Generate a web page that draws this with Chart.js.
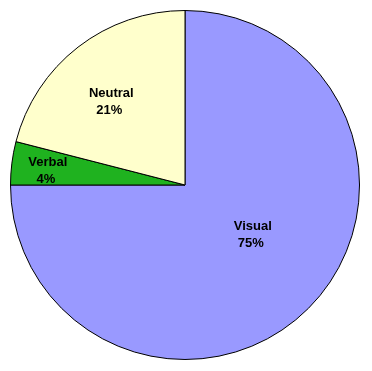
<!DOCTYPE html>
<html>
<head>
<meta charset="utf-8">
<script src="https://cdn.jsdelivr.net/npm/chart.js@4"></script>
<style>
  html, body { margin: 0; padding: 0; background: #fff; }
  #wrap { width: 372px; height: 371px; }
</style>
</head>
<body>
<div id="wrap"><canvas id="pie"></canvas></div>
<script>
// slices, clockwise from 12 o'clock
const categories = ['Visual', 'Verbal', 'Neutral'];
const shares = [75, 4, 21];
const sliceColors = ['#9999ff', '#1fb21f', '#ffffcc'];

// where each label sits: fraction of radius, angle shift from slice middle (deg)
const labelSpots = [
  { r: 0.48, shift: -9 },
  { r: 0.79, shift: -1.3 },
  { r: 0.64, shift: -3.5 }
];

const sliceLabels = {
  id: 'sliceLabels',
  afterDatasetsDraw(chart) {
    const ctx = chart.ctx;
    const arcs = chart.getDatasetMeta(0).data;
    ctx.save();
    ctx.font = 'bold 13px "Liberation Sans", Arial, sans-serif';
    ctx.fillStyle = '#000';
    ctx.textAlign = 'center';
    ctx.textBaseline = 'middle';
    arcs.forEach((arc, i) => {
      const p = arc.getProps(['x', 'y', 'startAngle', 'endAngle', 'outerRadius'], true);
      const a = (p.startAngle + p.endAngle) / 2 + labelSpots[i].shift * Math.PI / 180;
      const d = p.outerRadius * labelSpots[i].r;
      const cx = p.x + Math.cos(a) * d;
      const cy = p.y + Math.sin(a) * d;
      ctx.fillText(categories[i], cx, cy - 8);
      ctx.fillText(shares[i] + '%', cx - 2, cy + 9);
    });
    ctx.restore();
  }
};

new Chart(document.getElementById('pie'), {
  type: 'pie',
  data: {
    labels: categories,
    datasets: [{
      data: shares,
      backgroundColor: sliceColors,
      borderColor: '#000',
      borderWidth: 1
    }]
  },
  options: {
    responsive: true,
    maintainAspectRatio: false,
    animation: false,
    layout: { padding: { left: 10, right: 12, top: 10, bottom: 11 } },
    plugins: {
      legend: { display: false },
      tooltip: { enabled: false }
    }
  },
  plugins: [sliceLabels]
});
</script>
</body>
</html>
